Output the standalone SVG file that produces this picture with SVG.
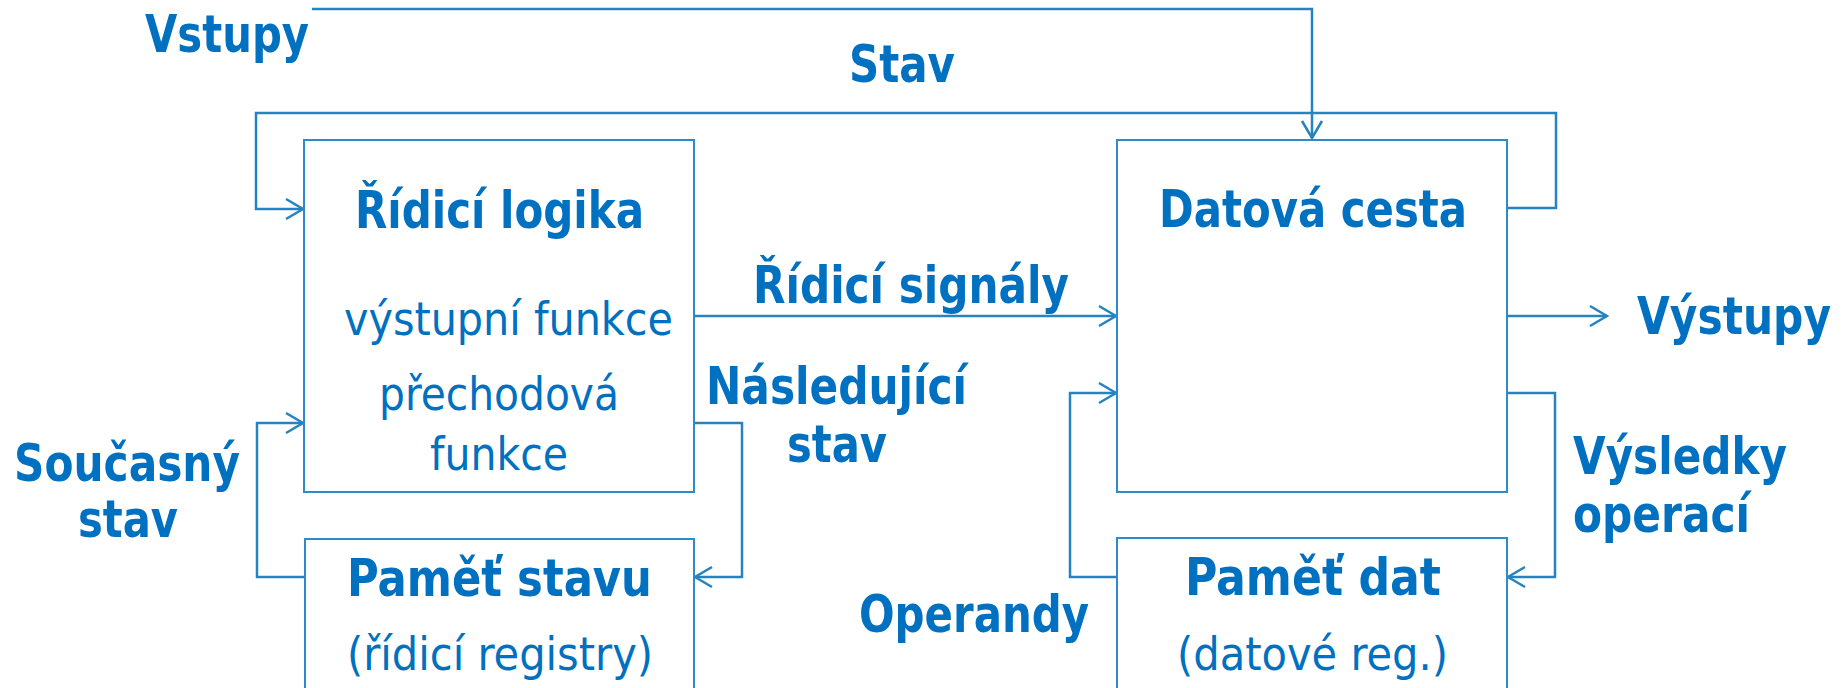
<svg xmlns="http://www.w3.org/2000/svg" width="1845" height="688" viewBox="0 0 1845 688">
  <defs>
    <style>
      .box { fill: #ffffff; stroke: #2e8bc8; stroke-width: 2; }
      .wire { fill: none; stroke: #2583c1; stroke-width: 2.5; }
      .t { fill: #0070c0; font-family: "DejaVu Sans Condensed", "DejaVu Sans", sans-serif; }
      .b { font-weight: bold; font-size: 51px; }
      .r { font-weight: normal; font-size: 46px; }
    </style>
    <marker id="arrow" markerUnits="userSpaceOnUse" viewBox="-20 -12 22 24" markerWidth="22" markerHeight="24" refX="0" refY="0" orient="auto">
      <path d="M-17,-10 L0,0 L-17,10" fill="none" stroke="#2583c1" stroke-width="2.5"/>
    </marker>
  </defs>
  <rect width="1845" height="688" fill="#ffffff"/>

  <!-- connectors -->
  <g id="connectors">
    <path class="wire" d="M312,9 H1312 V138" marker-end="url(#arrow)"/>
    <path class="wire" d="M1507,208 H1556 V113 H256 V209 H303" marker-end="url(#arrow)"/>
    <path class="wire" d="M694,316 H1116" marker-end="url(#arrow)"/>
    <path class="wire" d="M694,423 H742 V577 H695" marker-end="url(#arrow)"/>
    <path class="wire" d="M305,577 H257 V423 H303" marker-end="url(#arrow)"/>
    <path class="wire" d="M1507,316 H1607" marker-end="url(#arrow)"/>
    <path class="wire" d="M1117,577 H1070 V393 H1116" marker-end="url(#arrow)"/>
    <path class="wire" d="M1507,393 H1555 V577 H1508" marker-end="url(#arrow)"/>
  </g>

  <!-- control logic -->
  <g id="ridici-logika">
    <rect class="box" x="304" y="140" width="390" height="352"/>
    <text class="t b" x="355" y="228" textLength="289" lengthAdjust="spacingAndGlyphs">Řídicí logika</text>
    <text class="t r" x="344" y="335" textLength="329" lengthAdjust="spacingAndGlyphs">výstupní funkce</text>
    <text class="t r" x="379" y="410" textLength="240" lengthAdjust="spacingAndGlyphs">přechodová</text>
    <text class="t r" x="430" y="470" textLength="138" lengthAdjust="spacingAndGlyphs">funkce</text>
  </g>

  <!-- datapath -->
  <g id="datova-cesta">
    <rect class="box" x="1117" y="140" width="390" height="352"/>
    <text class="t b" x="1159" y="227" textLength="308" lengthAdjust="spacingAndGlyphs">Datová cesta</text>
  </g>

  <!-- state memory -->
  <g id="pamet-stavu">
    <rect class="box" x="305" y="539" width="389" height="170"/>
    <text class="t b" x="347" y="596" textLength="305" lengthAdjust="spacingAndGlyphs">Paměť stavu</text>
    <text class="t r" x="347" y="670" textLength="306" lengthAdjust="spacingAndGlyphs">(řídicí registry)</text>
  </g>

  <!-- data memory -->
  <g id="pamet-dat">
    <rect class="box" x="1117" y="538" width="390" height="170"/>
    <text class="t b" x="1185" y="595" textLength="256" lengthAdjust="spacingAndGlyphs">Paměť dat</text>
    <text class="t r" x="1177" y="670" textLength="271" lengthAdjust="spacingAndGlyphs">(datové reg.)</text>
  </g>

  <!-- signal labels -->
  <g id="labels">
    <text class="t b" x="145" y="52" textLength="164" lengthAdjust="spacingAndGlyphs">Vstupy</text>
    <text class="t b" x="849" y="82" textLength="106" lengthAdjust="spacingAndGlyphs">Stav</text>
    <text class="t b" x="753" y="303" textLength="316" lengthAdjust="spacingAndGlyphs">Řídicí signály</text>
    <text class="t b" x="706" y="404" textLength="261" lengthAdjust="spacingAndGlyphs">Následující</text>
    <text class="t b" x="787" y="462" textLength="100" lengthAdjust="spacingAndGlyphs">stav</text>
    <text class="t b" x="1637" y="334" textLength="194" lengthAdjust="spacingAndGlyphs">Výstupy</text>
    <text class="t b" x="14" y="481" textLength="226" lengthAdjust="spacingAndGlyphs">Současný</text>
    <text class="t b" x="78" y="537" textLength="100" lengthAdjust="spacingAndGlyphs">stav</text>
    <text class="t b" x="859" y="632" textLength="230" lengthAdjust="spacingAndGlyphs">Operandy</text>
    <text class="t b" x="1573" y="474" textLength="214" lengthAdjust="spacingAndGlyphs">Výsledky</text>
    <text class="t b" x="1573" y="532" textLength="177" lengthAdjust="spacingAndGlyphs">operací</text>
  </g>
</svg>
